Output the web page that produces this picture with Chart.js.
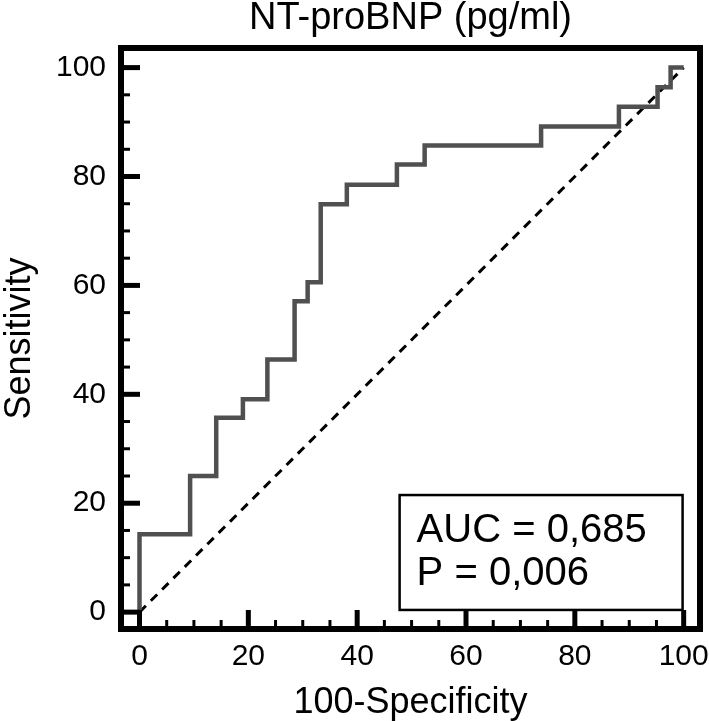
<!DOCTYPE html>
<html>
<head>
<meta charset="utf-8">
<script src="https://cdn.jsdelivr.net/npm/chart.js@4"></script>
<style>
  body { margin: 0; background: #fff; }
  #wrap { width: 709px; height: 721px; }
</style>
</head>
<body>
<div id="wrap"><canvas id="myChart"></canvas></div>
<script>
// ROC curve corners (100-specificity, sensitivity)
let fpr = [0, 0, 9.3, 14.1, 19.0, 23.5, 28.5, 30.9, 33.3, 38.1, 47.3, 52.4, 73.8, 88.1, 95.2, 97.6, 100];
let tpr = [0, 14.3, 25.0, 35.7, 39.1, 46.4, 57.1, 60.6, 74.9, 78.5, 82.2, 85.7, 89.2, 92.8, 96.4, 100, 100];

// chance line
let diagX = [0, 100];
let diagY = [0, 100];

let xTicks = [0, 20, 40, 60, 80, 100];
let yTicks = [0, 20, 40, 60, 80, 100];
let stats = ['AUC = 0,685', 'P = 0,006'];

Chart.defaults.font.family = '"Liberation Sans", Arial, sans-serif';
Chart.defaults.color = '#000';

// inward ticks, frame and the AUC box
const extras = {
    id: 'extras',
    afterDraw(chart) {
        const ctx = chart.ctx;
        const a = chart.chartArea;
        const x = chart.scales.x, y = chart.scales.y;
        ctx.save();
        ctx.strokeStyle = '#000';
        for (let v = 0; v <= 100; v += 5) {
            let major = v % 20 === 0;
            let len = major ? 19 : 9;
            ctx.lineWidth = major ? 5 : 3;
            let px = x.getPixelForValue(v);
            ctx.beginPath();
            ctx.moveTo(px, a.bottom);
            ctx.lineTo(px, a.bottom - len);
            ctx.stroke();
            let py = y.getPixelForValue(v);
            ctx.beginPath();
            ctx.moveTo(a.left, py);
            ctx.lineTo(a.left + len, py);
            ctx.stroke();
        }
        ctx.lineWidth = 6;
        ctx.strokeRect(a.left, a.top, a.right - a.left, a.bottom - a.top);

        // stats box
        let bx1 = x.getPixelForValue(47.8), bx2 = x.getPixelForValue(99.8);
        let by1 = y.getPixelForValue(21.5), by2 = y.getPixelForValue(0.4);
        ctx.fillStyle = '#fff';
        ctx.fillRect(bx1, by1, bx2 - bx1, by2 - by1);
        ctx.lineWidth = 2.5;
        ctx.strokeRect(bx1, by1, bx2 - bx1, by2 - by1);
        ctx.fillStyle = '#000';
        ctx.font = '40px "Liberation Sans", Arial, sans-serif';
        ctx.textBaseline = 'alphabetic';
        ctx.textAlign = 'left';
        ctx.fillText(stats[0], bx1 + 17, by1 + 47);
        ctx.fillText(stats[1], bx1 + 17, by1 + 90);
        ctx.restore();
    }
};

var ctx = document.getElementById('myChart').getContext('2d');
var chart = new Chart(ctx, {
    type: 'scatter',
    data: {
        datasets: [{
            label: 'ROC',
            data: fpr.map((v, i) => ({ x: v, y: tpr[i] })),
            showLine: true,
            stepped: 'before',
            borderColor: 'rgb(80, 80, 80)',
            borderWidth: 4.5,
            pointRadius: 0,
            fill: false
        },
        {
            label: 'Chance',
            data: diagX.map((v, i) => ({ x: v, y: diagY[i] })),
            showLine: true,
            borderColor: '#000',
            borderWidth: 3,
            borderDash: [9, 7],
            pointRadius: 0,
            fill: false
        }]
    },
    options: {
        responsive: true,
        maintainAspectRatio: false,
        animation: false,
        layout: { padding: { left: 0, right: 9, top: 0, bottom: 0 } },
        plugins: {
            legend: { display: false },
            tooltip: { enabled: false },
            title: {
                display: true,
                text: 'NT-proBNP (pg/ml)',
                fullSize: false,
                font: { size: 38, weight: 'normal', lineHeight: 1 },
                padding: { top: 0, bottom: 10 }
            }
        },
        scales: {
            x: {
                type: 'linear',
                min: -3.4,
                max: 103.0,
                grid: { display: false, drawTicks: false },
                border: { display: false },
                afterBuildTicks: s => { s.ticks = xTicks.map(v => ({ value: v })); },
                afterFit: s => { s.height = 92; s.paddingLeft = 0; s.paddingRight = 0; },
                ticks: { font: { size: 30 }, padding: 10, maxRotation: 0 },
                title: {
                    display: true,
                    text: '100-Specificity',
                    font: { size: 36, lineHeight: 1 },
                    padding: { top: 0, bottom: 0 }
                }
            },
            y: {
                type: 'linear',
                min: -3.1,
                max: 103.6,
                grid: { display: false, drawTicks: false },
                border: { display: false },
                afterBuildTicks: s => { s.ticks = yTicks.map(v => ({ value: v })); },
                afterFit: s => { s.width = 121; s.paddingTop = 0; s.paddingBottom = 0; },
                ticks: { font: { size: 30 }, padding: 15 },
                title: {
                    display: true,
                    text: 'Sensitivity',
                    font: { size: 36, lineHeight: 1 },
                    padding: { top: 2, bottom: 0 }
                }
            }
        }
    },
    plugins: [extras]
});
</script>
</body>
</html>
